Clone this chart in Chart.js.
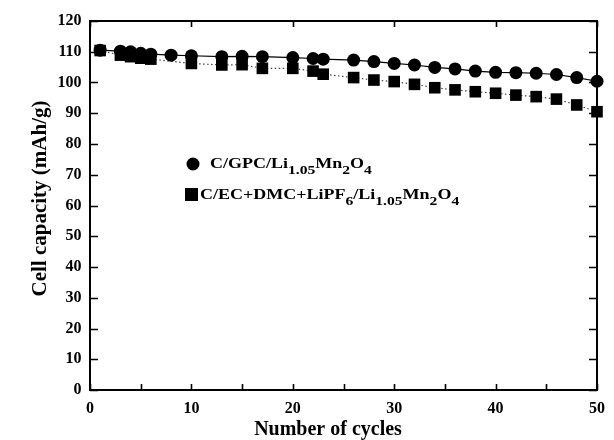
<!DOCTYPE html>
<html><head><meta charset="utf-8">
<script src="https://cdn.jsdelivr.net/npm/chart.js@4/dist/chart.umd.min.js"></script>
<style>html,body{margin:0;padding:0;background:#fff}#wrap{width:614px;height:440px}</style>
</head><body><div id="wrap"><canvas id="c" width="614" height="440"></canvas></div>
<script>
// ---- data ----
const cyclesGPC = [1,3,4,5,6,8,10,13,15,17,20,22,23,26,28,30,32,34,36,38,40,42,44,46,48,50];
const capacityGPC = [110.5,110.2,110.0,109.5,109.2,108.9,108.7,108.4,108.5,108.4,108.1,107.8,107.6,107.3,106.8,106.2,105.7,104.9,104.4,103.7,103.3,103.2,103.0,102.6,101.6,100.4];
const cyclesLiquid = [1,3,4,5,6,10,13,15,17,20,22,23,26,28,30,32,34,36,38,40,42,44,46,48,50];
const capacityLiquid = [110.4,108.9,108.4,107.9,107.6,106.2,105.7,105.8,104.6,104.6,103.7,102.7,101.6,100.8,100.3,99.4,98.3,97.6,97.0,96.5,95.9,95.4,94.6,92.7,90.5];
const xTitle = 'Number of cycles';
const yTitle = 'Cell capacity (mAh/g)';
// legend labels as [text, isSubscript] segments
const labelGPC = [['C/GPC/Li',0],['1.05',1],['Mn',0],['2',1],['O',0],['4',1]];
const labelLiquid = [['C/EC+DMC+LiPF',0],['6',1],['/Li',0],['1.05',1],['Mn',0],['2',1],['O',0],['4',1]];

const FAM = '"Liberation Serif", "Times New Roman", serif';

function toPoints(xs, ys){ return xs.map((x,i)=>({x:x, y:ys[i]})); }

const framePlugin = {
  id: 'frame',
  beforeDatasetsDraw(chart){
    const {ctx, chartArea:a, scales:{x, y}} = chart;
    ctx.save();
    ctx.strokeStyle = '#000';
    ctx.lineWidth = 2;
    ctx.strokeRect(a.left, a.top, a.right - a.left, a.bottom - a.top);
    ctx.lineWidth = 1.6;
    ctx.beginPath();
    for (let v = y.min; v <= y.max; v += 10) {
      const py = Math.round(y.getPixelForValue(v)) + 0.5;
      ctx.moveTo(a.left, py); ctx.lineTo(a.left + 8, py);
      ctx.moveTo(a.right, py); ctx.lineTo(a.right - 8, py);
    }
    for (let v = x.min; v <= x.max; v += 5) {
      const px = Math.round(x.getPixelForValue(v)) + 0.5;
      ctx.moveTo(px, a.bottom); ctx.lineTo(px, a.bottom - 6);
      if (v % 10 === 0) { ctx.moveTo(px, a.top); ctx.lineTo(px, a.top + 6); }
    }
    ctx.stroke();
    ctx.restore();
  },
  afterDatasetsDraw(chart){
    const {ctx, chartArea:a} = chart;
    ctx.save();
    ctx.fillStyle = '#000';
    // axis titles
    ctx.font = 'bold 20px ' + FAM;
    ctx.textAlign = 'center';
    ctx.textBaseline = 'alphabetic';
    ctx.fillText(xTitle, a.left + 238, 435);
    ctx.save();
    ctx.font = 'bold 21px ' + FAM;
    ctx.translate(46, (a.top + a.bottom) / 2 - 7);
    ctx.rotate(-Math.PI / 2);
    ctx.fillText(yTitle, 0, 0);
    ctx.restore();

    const items = [
      {seg: labelGPC, style: 'circle', mx: a.left + 103, my: a.top + 143, tx: a.left + 120, y: a.top + 147},
      {seg: labelLiquid, style: 'rect', mx: a.left + 101.5, my: a.top + 173.5, tx: a.left + 110, y: a.top + 178}
    ];
    items.forEach(it => {
      ctx.beginPath();
      if (it.style === 'circle') {
        ctx.arc(it.mx, it.my, 6.5, 0, Math.PI*2);
        ctx.fill();
      } else {
        ctx.fillRect(it.mx - 6.5, it.my - 6.5, 13, 13);
      }
      ctx.save();
      ctx.translate(it.tx, it.y);
      ctx.scale(1.2, 1);
      let cx = 0;
      ctx.textBaseline = 'alphabetic';
      ctx.textAlign = 'left';
      it.seg.forEach(([t, sub]) => {
        ctx.font = sub ? 'bold 13px ' + FAM : 'bold 15px ' + FAM;
        ctx.fillText(t, cx, sub ? 6 : 0);
        cx += ctx.measureText(t).width;
      });
      ctx.restore();
    });
    ctx.restore();
  }
};

new Chart(document.getElementById('c'), {
  type: 'line',
  data: {
    datasets: [
      {
        label: 'C/GPC/Li1.05Mn2O4',
        data: toPoints(cyclesGPC, capacityGPC),
        borderColor: '#000', backgroundColor: '#000', borderWidth: 1.2,
        pointStyle: 'circle', pointRadius: 6.5, pointBorderWidth: 0,
        pointBackgroundColor: '#000', tension: 0, clip: false
      },
      {
        label: 'C/EC+DMC+LiPF6/Li1.05Mn2O4',
        data: toPoints(cyclesLiquid, capacityLiquid),
        borderColor: '#444', backgroundColor: '#000', borderWidth: 1.2,
        borderDash: [1.5, 2.5],
        pointStyle: 'rect', pointRadius: 8.2, pointBorderWidth: 0,
        pointBackgroundColor: '#000', tension: 0, clip: false
      }
    ]
  },
  options: {
    responsive: false, animation: false, devicePixelRatio: 1,
    layout: {padding: {left: 0, top: 21, right: 11, bottom: 0}},
    plugins: {legend: {display: false}, tooltip: {enabled: false}},
    scales: {
      x: {
        type: 'linear', min: 0, max: 50,
        ticks: {stepSize: 10, color: '#000', padding: 9, maxRotation: 0,
                font: {family: FAM, size: 16, weight: 'bold'}},
        grid: {display: false, drawTicks: false},
        border: {display: false},
        title: {display: false, text: xTitle},
        afterFit: s => { s.height = 50; }
      },
      y: {
        type: 'linear', min: 0, max: 120,
        ticks: {stepSize: 10, color: '#000', padding: 8.5,
                font: {family: FAM, size: 16, weight: 'bold'}},
        grid: {display: false, drawTicks: false},
        border: {display: false},
        title: {display: false, text: yTitle},
        afterFit: s => { s.width = 90; }
      }
    }
  },
  plugins: [framePlugin]
});
</script>
</body></html>
